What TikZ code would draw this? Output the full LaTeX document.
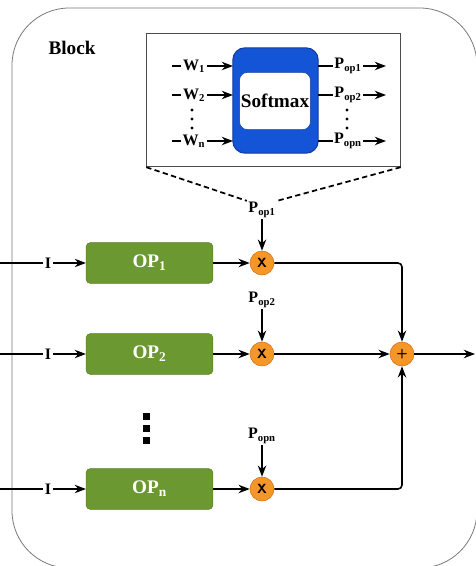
\documentclass[tikz,border=0pt]{standalone}
\usepackage{fontspec}
\setmainfont{Liberation Serif}
\usetikzlibrary{arrows.meta,calc}
\definecolor{opgreen}{RGB}{108,152,50}
\definecolor{opgreenline}{RGB}{88,128,40}
\definecolor{smblue}{RGB}{20,84,214}
\definecolor{smblueline}{RGB}{16,60,160}
\definecolor{mulorange}{RGB}{244,150,40}
\definecolor{mulline}{RGB}{214,112,20}
\definecolor{blockgray}{RGB}{120,120,120}

\tikzset{
    opbox/.style={rectangle, rounded corners=3pt, fill=opgreen, draw=opgreenline,
        minimum width=95pt, minimum height=30.5pt, text=white, font=\bfseries\Large},
    mulnode/.style={circle, fill=mulorange, draw=mulline, inner sep=0pt,
        minimum size=18pt, font=\sffamily\bfseries},
    lbl/.style={inner sep=1pt, font=\bfseries\large},
    wire/.style={line width=1.2pt, ->}
}

\begin{document}
\begin{tikzpicture}[x=0.75pt, y=-0.75pt, >=Stealth]
    \useasboundingbox (0,0) rectangle (475,566);

    % Outer block
    \draw[blockgray, semithick, rounded corners=43pt] (12,8) rectangle (477,568);
    \node[font=\bfseries\Large] (blk) at (72,48) {Block};

    % Softmax inset
    \node[draw=black!70, thick, minimum width=190pt, minimum height=100pt] (inset) at (273.5,100) {};
    \node[rectangle, rounded corners=9pt, fill=smblue, draw=smblueline, thick,
        minimum width=64pt, minimum height=79pt] (smout) at (275.5,100.5) {};
    \node[rectangle, rounded corners=6pt, fill=white, draw=smblueline, inner sep=1pt,
        minimum width=52pt, minimum height=43pt, font=\bfseries\Large] (smin) at (275,101) {Softmax};

    % Weights in, probabilities out
    \foreach \y/\k in {66/1, 95/2, 141/n} {
        \coordinate (win\k) at (172,\y);
        \coordinate (wend\k) at (233,\y);
        \node[lbl, fill=white] (w\k) at (194,\y) {W\textsubscript{\k}};
        \draw[line width=1.2pt] (win\k) -- (w\k);
        \draw[wire] (w\k) -- (wend\k);
        \coordinate (pst\k) at (318,\y);
        \coordinate (pend\k) at (386,\y);
        \node[lbl, fill=white] (p\k) at (348,\y) {P\textsubscript{op\k}};
        \draw[line width=1.2pt] (pst\k) -- (p\k);
        \draw[wire] (p\k) -- (pend\k);
    }
    \foreach \y in {110,119,128} {
        \fill (192,\y) circle (1.6);
        \fill (347,\y) circle (1.6);
    }

    % Zoom lines
    \node[lbl] (pop1) at (262,210) {P\textsubscript{op1}};
    \draw[line width=1.3pt, dash pattern=on 4pt off 2.5pt] (inset.south west) -- (pop1.north west);
    \draw[line width=1.3pt, dash pattern=on 4pt off 2.5pt] (inset.south east) -- (pop1.north east);

    % Operation rows
    \foreach \y/\k in {263/1, 354/2, 489/n} {
        \coordinate (in\k) at (0,\y);
        \node[lbl] (i\k) at (48,\y) {I};
        \node[opbox] (op\k) at (149.5,\y) {OP\textsubscript{\k}};
        \node[mulnode] (m\k) at (262,\y) {X};
        \draw[line width=1.2pt] (in\k) -- (i\k);
        \draw[wire] (i\k) -- (op\k);
        \draw[wire] (op\k) -- (m\k);
    }
    \node[lbl] (pop2) at (262,300) {P\textsubscript{op2}};
    \node[lbl] (popn) at (262,436) {P\textsubscript{opn}};
    \draw[wire] (pop1) -- (m1);
    \draw[wire] (pop2) -- (m2);
    \draw[wire] (popn) -- (mn);

    % Vertical dots between rows
    \foreach \y in {416,428,440} {
        \fill (143,\y-3.5) rectangle (150,\y+3.5);
    }

    % Sum
    \node[mulnode] (sum) at (402,354) {+};
    \coordinate (out) at (475,354);
    \draw[wire, rounded corners=3pt] (m1) -| (sum);
    \draw[wire] (m2) -- (sum);
    \draw[wire, rounded corners=3pt] (mn) -| (sum);
    \draw[wire] (sum) -- (out);
\end{tikzpicture}
\end{document}
